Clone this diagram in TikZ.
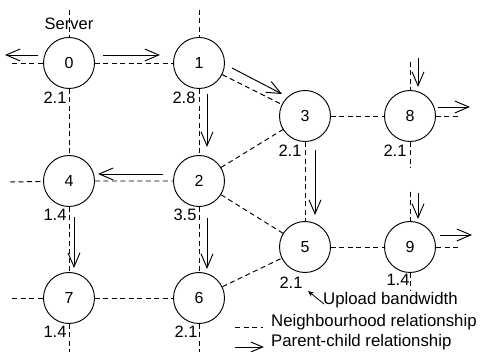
\documentclass[tikz,border=0pt]{standalone}
\usepackage{fontspec}
\setmainfont{Liberation Sans}
\usetikzlibrary{arrows.meta}
\begin{document}
\begin{tikzpicture}[x=1pt,y=-1pt,
  peer/.style={circle,draw,line width=0.95pt,minimum size=51pt,inner sep=0pt,font=\fontsize{16}{17}\selectfont},
  nb/.style={dashed,dash pattern=on 5pt off 3.5pt,line width=0.95pt},
  pc/.style={line width=0.95pt,-{Straight Barb[length=14pt,width=12pt]}},
  bw/.style={font=\fontsize{16.5}{17}\selectfont,inner sep=0pt},
  lg/.style={font=\fontsize{16.8}{18}\selectfont,inner sep=0pt,anchor=west}]
\useasboundingbox (0,0) rectangle (483,352);
% nodes
\node[peer] (n0) at (69,63) {0};
\node[peer] (n1) at (199,63) {1};
\node[peer] (n2) at (199,181) {2};
\node[peer] (n3) at (305,116) {3};
\node[peer] (n4) at (69,181) {4};
\node[peer] (n5) at (305,247) {5};
\node[peer] (n6) at (199,298) {6};
\node[peer] (n7) at (69,298) {7};
\node[peer] (n8) at (410,116) {8};
\node[peer] (n9) at (410,247) {9};
% free ends
\coordinate (t0) at (69,10);
\coordinate (t1) at (199,10);
\coordinate (b7) at (69,352);
\coordinate (b6) at (199,352);
\coordinate (l0) at (12,63);
\coordinate (l4) at (10,182);
\coordinate (l7) at (12,298);
\coordinate (t8) at (410,62);
\coordinate (b8) at (410,168);
\coordinate (t9) at (410,192);
\coordinate (r8) at (458,116);
\coordinate (r9) at (458,247);
\coordinate (b9) at (410,290);
% neighbourhood
\draw[nb] (t0) -- (n0) -- (n4) -- (n7) -- (b7);
\draw[nb] (t1) -- (n1) -- (n2) -- (n6) -- (b6);
\draw[nb] (l0) -- (n0) -- (n1);
\draw[nb] (l4) -- (n4) -- (n2);
\draw[nb] (l7) -- (n7) -- (n6);
\draw[nb] (n1) -- (n3);
\draw[nb] (n2) -- (n3);
\draw[nb] (n2) -- (n5);
\draw[nb] (n6) -- (n5);
\draw[nb] (n3) -- (n5);
\draw[nb] (n3) -- (n8);
\draw[nb] (n5) -- (n9);
\draw[nb] (t8) -- (n8) -- (r8);
\draw[nb] (n8) -- (b8);
\draw[nb] (t9) -- (n9);
\draw[nb] (r9) -- (n9) -- (b9);
% parent-child
\draw[pc] ([shift={(-31,-8)}]n0.center) -- ([shift={(-64,-8)}]n0.center);
\draw[pc] ([shift={(34,-8)}]n0.center) -- ([shift={(-39,-8)}]n1.center);
\draw[pc] ([shift={(8,31)}]n1.center) -- ([shift={(8,-34)}]n2.center);
\draw[pc] ([shift={(33,5)}]n1.center) -- ([shift={(-23,-22)}]n3.center);
\draw[pc] ([shift={(-36,-7)}]n2.center) -- ([shift={(29,-7)}]n4.center);
\draw[pc] ([shift={(8,37)}]n2.center) -- ([shift={(8,-29)}]n6.center);
\draw[pc] ([shift={(5,36)}]n4.center) -- ([shift={(5,-30)}]n7.center);
\draw[pc] ([shift={(10,34)}]n3.center) -- ([shift={(10,-32)}]n5.center);
\draw[pc] ([shift={(8,-58)}]n8.center) -- ([shift={(8,-29)}]n8.center);
\draw[pc] ([shift={(28,-9)}]n8.center) -- ([shift={(60,-9)}]n8.center);
\draw[pc] ([shift={(8,-54)}]n9.center) -- ([shift={(8,-28)}]n9.center);
\draw[pc] ([shift={(30,-12)}]n9.center) -- ([shift={(62,-12)}]n9.center);
% labels
\node[bw] (srv) at (69,24) {Server};
\node[bw] (w0) at ([shift={(-14,35)}]n0.center) {2.1};
\node[bw] (w1) at ([shift={(-15,35)}]n1.center) {2.8};
\node[bw] (w3) at ([shift={(-15,35)}]n3.center) {2.1};
\node[bw] (w8) at ([shift={(-15,35)}]n8.center) {2.1};
\node[bw] (w4) at ([shift={(-14,34)}]n4.center) {1.4};
\node[bw] (w2) at ([shift={(-14,34)}]n2.center) {3.5};
\node[bw] (w7) at ([shift={(-14,34)}]n7.center) {1.4};
\node[bw] (w6) at ([shift={(-13,34)}]n6.center) {2.1};
\node[bw] (w5) at ([shift={(-14,36)}]n5.center) {2.1};
\node[bw] (w9) at ([shift={(-12,33)}]n9.center) {1.4};
% legend
\node[lg] (lu) at (323,300) {Upload bandwidth};
\draw[line width=0.8pt,-{Stealth[length=6pt,width=5pt]}] ([shift={(1,4)}]lu.west) -- ([shift={(-15,-9)}]lu.west);
\coordinate (ln1) at (235,327);
\coordinate (ln2) at (263,327);
\draw[nb] (ln1) -- (ln2);
\node[lg] (lnb) at (271,322) {Neighbourhood relationship};
\coordinate (lp1) at (235,347);
\coordinate (lp2) at (264,347);
\draw[line width=0.95pt,-{Straight Barb[length=12pt,width=10pt]}] (lp1) -- (lp2);
\node[lg] (lpc) at (271,342) {Parent-child relationship};
\end{tikzpicture}
\end{document}
